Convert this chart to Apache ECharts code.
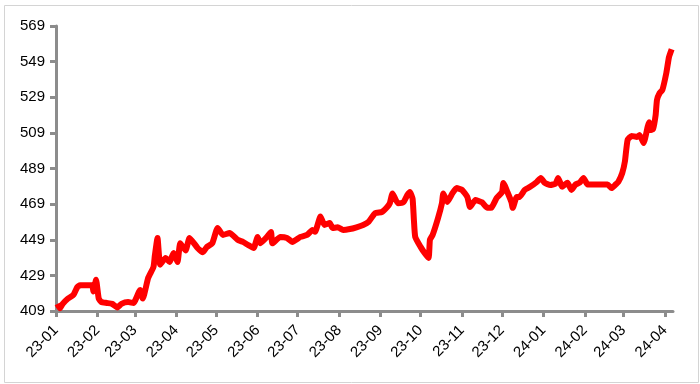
<!DOCTYPE html>
<html>
<head>
<meta charset="utf-8">
<script src="https://cdn.jsdelivr.net/npm/echarts@6/dist/echarts.min.js"></script>
<style>html,body{margin:0;padding:0;background:#fff}#c{width:700px;height:384px}</style>
</head>
<body>
<div id="c"></div>
<script>
const dates = [
'2023-01-02','2023-01-04','2023-01-06','2023-01-10','2023-01-14','2023-01-17','2023-01-19','2023-01-28','2023-01-29','2023-01-31',
'2023-02-02','2023-02-04','2023-02-08','2023-02-12','2023-02-16','2023-02-19','2023-02-24','2023-02-28','2023-03-05','2023-03-07',
'2023-03-11','2023-03-15','2023-03-16','2023-03-18','2023-03-20','2023-03-24','2023-03-27','2023-03-30','2023-04-02','2023-04-04',
'2023-04-08','2023-04-11','2023-04-17','2023-04-21','2023-04-24','2023-04-28','2023-05-02','2023-05-06','2023-05-11','2023-05-17',
'2023-05-21','2023-05-25','2023-05-29','2023-06-01','2023-06-03','2023-06-08','2023-06-11','2023-06-12','2023-06-18','2023-06-23',
'2023-06-27','2023-07-03','2023-07-08','2023-07-12','2023-07-14','2023-07-18','2023-07-21','2023-07-25','2023-07-27','2023-07-31',
'2023-08-04','2023-08-09','2023-08-14','2023-08-19','2023-08-23','2023-08-28','2023-09-02','2023-09-06','2023-09-08','2023-09-10',
'2023-09-14','2023-09-18','2023-09-21','2023-09-23','2023-09-25','2023-09-26','2023-09-27','2023-10-01','2023-10-04','2023-10-07',
'2023-10-08','2023-10-10','2023-10-14','2023-10-17','2023-10-18','2023-10-21','2023-10-25','2023-10-28','2023-11-01','2023-11-05',
'2023-11-07','2023-11-11','2023-11-16','2023-11-20','2023-11-23','2023-11-27','2023-12-01','2023-12-02','2023-12-05','2023-12-08',
'2023-12-09','2023-12-12','2023-12-14','2023-12-18','2023-12-22','2023-12-27','2023-12-30','2024-01-02','2024-01-06','2024-01-10',
'2024-01-12','2024-01-15','2024-01-17','2024-01-19','2024-01-22','2024-01-25','2024-01-28','2024-01-31','2024-02-03','2024-02-05',
'2024-02-18','2024-02-21','2024-02-24','2024-02-26','2024-02-29','2024-03-02','2024-03-04','2024-03-07','2024-03-11','2024-03-13',
'2024-03-16','2024-03-19','2024-03-20','2024-03-21','2024-03-23','2024-03-25','2024-03-26','2024-03-28','2024-03-30','2024-04-02',
'2024-04-04','2024-04-06'
];
const values = [
413,410.5,413,416,418,422.5,423.5,423.5,420,426.5,
416,414,413.5,413,411,413,414,413.5,420.8,416,
427.5,433.7,440,450,435,438.8,436.5,441.6,436.5,447,
443,450,444.4,442,445,447,455.6,451.7,452.8,449,
447.8,446,444.4,450.6,447,450.6,453.4,447,450.6,450,
447.8,450.6,451.7,454.5,453.5,462,457.3,458.4,455.6,456,
454.5,455,456,457.3,459,464,464.6,467.4,469.6,475,
469.5,470,474,475.8,472,460,450.6,445,441.6,438.8,
449,451.7,461,469.6,475,470.2,475.3,478,477,473,
467.4,471.3,470,466.9,467,472.5,475.8,480.9,475.8,470.2,
466.9,473,473,477,478.7,481.4,483.7,480.9,479.8,480.5,
483.7,478.7,480,481,477,480,481,483.7,480,480,
480,478,480,481.4,486.5,493,505,507.3,506.7,507.8,
503.3,512.3,515,510.6,511,519,527.5,531.4,533,542.6,
551.6,556
];
const yMin = 409, yMax = 569, yStep = 20;
const xMin = '2023-01-01', xMax = '2024-04-07';

const chart = echarts.init(document.getElementById('c'), null, {renderer: 'canvas'});
const DAY = 86400000;
chart.setOption({
  animation: false,
  backgroundColor: '#fff',
  graphic: [{
    type: 'rect', left: 2, top: 3, shape: {width: 694, height: 377},
    style: {fill: 'none', stroke: '#d4d4d4', lineWidth: 1}, silent: true
  }],
  grid: {left: 56, right: 27, top: 26, bottom: 73, containLabel: false},
  xAxis: {
    type: 'time',
    min: xMin, max: xMax,
    minInterval: 30 * DAY, maxInterval: 30 * DAY,
    splitNumber: 16,
    axisLine: {lineStyle: {color: '#8c8c8c', width: 3}},
    axisTick: {show: true, length: 6, lineStyle: {color: '#8c8c8c', width: 3}},
    axisLabel: {
      formatter: '{yy}-{MM}', rotate: 45, color: '#000',
      fontFamily: 'Liberation Sans', fontSize: 15, margin: 17,
      showMaxLabel: false, hideOverlap: false
    },
    splitLine: {show: false}
  },
  yAxis: {
    type: 'value', min: yMin, max: yMax, interval: yStep,
    axisLine: {show: true, lineStyle: {color: '#8c8c8c', width: 3}},
    axisTick: {show: true, length: 6, lineStyle: {color: '#8c8c8c', width: 3}},
    axisLabel: {color: '#000', fontFamily: 'Liberation Sans', fontSize: 15, margin: 11},
    splitLine: {show: false}
  },
  series: [{
    type: 'line',
    data: dates.map((d, i) => [d, values[i]]),
    showSymbol: false,
    smooth: 0.15,
    lineStyle: {color: '#ff0000', width: 6},
    itemStyle: {color: '#ff0000'}
  }]
});
</script>
</body>
</html>
